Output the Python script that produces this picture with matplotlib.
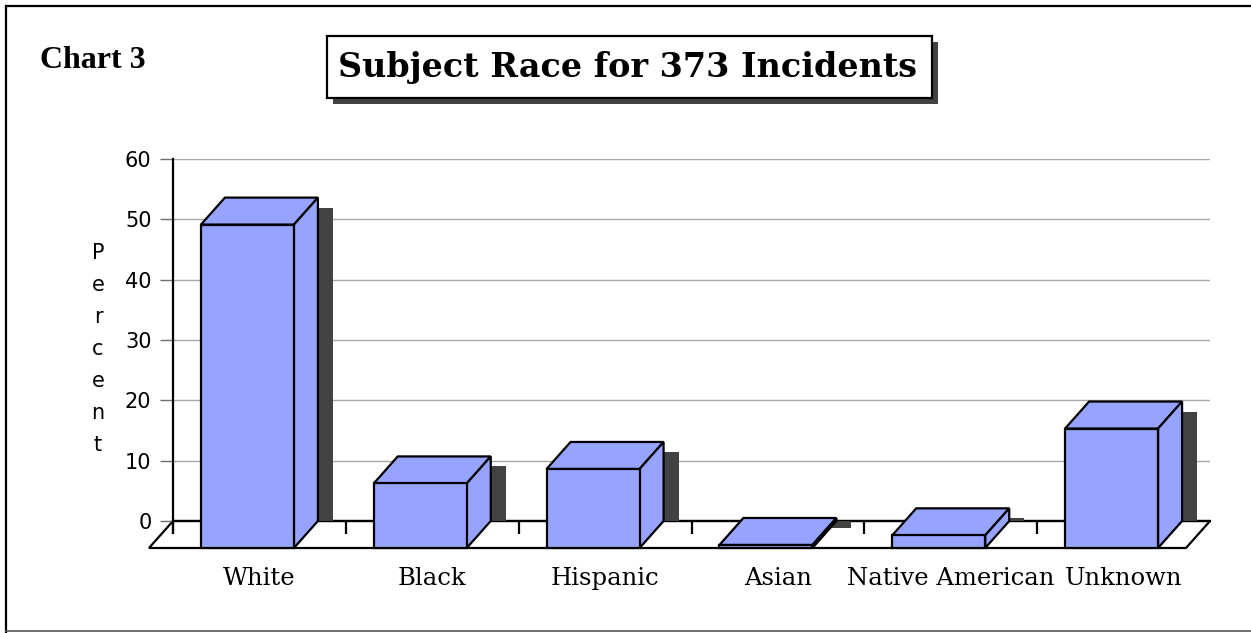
import numpy as np
import matplotlib.pyplot as plt
from matplotlib.patches import Polygon, Rectangle

races = ['White', 'Black', 'Hispanic', 'Asian', 'Native American', 'Unknown']
percent = [53.6, 10.7, 13.1, 0.5, 2.1, 19.8]
y_ticks = [0, 10, 20, 30, 40, 50, 60]

W, H = 1251, 633
bar_color = '#96a4ff'
shade = '#424242'

fig = plt.figure(figsize=(W / 100, H / 100), dpi=100)

# background layer in pixel units: frame, title box, side labels
bg = fig.add_axes([0, 0, 1, 1])
bg.set_xlim(0, W)
bg.set_ylim(H, 0)
bg.axis('off')
bg.plot([6, W], [6, 6], c='k', lw=1.6)
bg.plot([6, 6], [6, H], c='k', lw=1.6)
bg.plot([6, W], [631, 631], c='#555555', lw=1.2)
bg.add_patch(Rectangle((333, 42), 605, 62, fc=shade, ec='none'))
bg.add_patch(Rectangle((327, 36), 605, 62, fc='white', ec='k', lw=1.6))
bg.text(628, 68, 'Subject Race for 373 Incidents', ha='center', va='center',
        family='DejaVu Serif', weight='bold', fontsize=24)
bg.text(40, 61, 'Chart 3', ha='left', va='center', family='Liberation Serif',
        weight='bold', fontsize=23)
bg.text(98, 349, '\n'.join('Percent'), ha='center', va='center',
        family='DejaVu Sans', fontsize=15, linespacing=1.75)

# plotting area: back wall from x=173..1210 px, 0..60 from y=521..159 px
x0, x1, yb, yt = 173, 1210, 521, 159
ax = fig.add_axes([x0 / W, (H - yb) / H, (x1 - x0) / W, (yb - yt) / H])
ax.set_xlim(0, len(races))
ax.set_ylim(0, 60)
ax.patch.set_alpha(0)
for s in ax.spines.values():
    s.set_visible(False)

px_x = len(races) / (x1 - x0)
px_y = 60 / (yb - yt)
dx, dy = 24 * px_x, 27 * px_y        # depth of the 3D floor / bars
sx, sy = 15 * px_x, 10 * px_y        # shadow offset
width = 93 * px_x
pos = np.arange(len(races)) + 0.5

ax.set_yticks(y_ticks)
ax.set_yticklabels([str(t) for t in y_ticks], fontsize=15, family='DejaVu Sans')
ax.tick_params(axis='y', length=9.5, width=1, color='#707070', pad=6)
ax.grid(axis='y', color='#a8a8a8', lw=1)
ax.set_axisbelow(True)

ax.set_xticks(pos)
ax.set_xticklabels(races, family='DejaVu Serif', fontsize=17.5)
ax.set_xticks(np.arange(len(races)), minor=True)
ax.tick_params(axis='x', which='major', length=0, pad=33)
ax.tick_params(axis='x', which='minor', length=9.5, width=1.6, color='k')

# floor sits under the axis so the category ticks show on it
floor = Polygon([(0, 0), (len(races), 0), (len(races) - dx, -dy), (-dx, -dy)],
                closed=True, fc='white', ec='k', lw=1.6, zorder=0.3, clip_on=False)
ax.add_patch(floor)
ax.plot([0, len(races)], [0, 0], c='k', lw=1.6, zorder=0.6, clip_on=False)
ax.plot([0, 0], [-2, 60], c='k', lw=1.6, zorder=2.6, clip_on=False)

# shadows on the back wall
ax.bar(pos + dx / 2 + sx, np.array(percent) - sy, width=width, bottom=0,
       color=shade, zorder=3, clip_on=False)

# front faces
ax.bar(pos - dx / 2, percent, width=width, bottom=-dy, color=bar_color,
       ec='k', lw=1.6, zorder=5, clip_on=False)
for c, v in zip(pos, percent):
    xl = c - dx / 2 - width / 2
    xr = c - dx / 2 + width / 2
    top = Polygon([(xl, v - dy), (xr, v - dy), (xr + dx, v), (xl + dx, v)],
                  closed=True, fc=bar_color, ec='k', lw=1.6, zorder=4, clip_on=False)
    side = Polygon([(xr, -dy), (xr + dx, 0), (xr + dx, v), (xr, v - dy)],
                   closed=True, fc=bar_color, ec='k', lw=1.6, zorder=4, clip_on=False)
    ax.add_patch(top)
    ax.add_patch(side)

plt.savefig('out.png', dpi=100)
